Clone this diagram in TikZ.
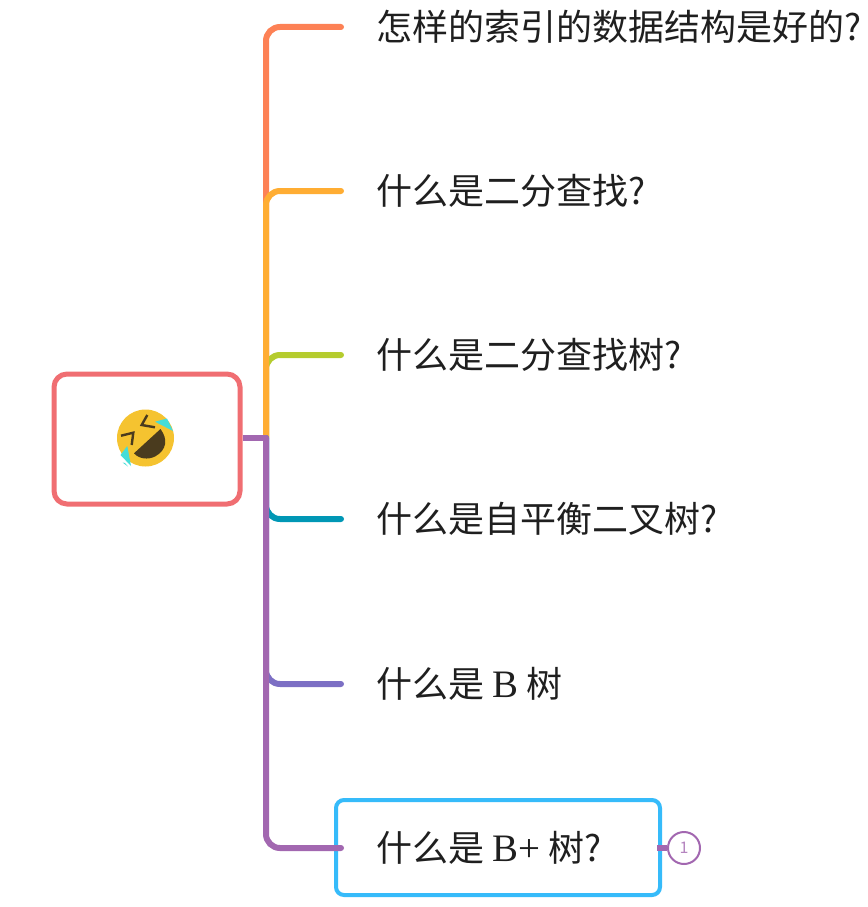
\documentclass[tikz,border=0pt]{standalone}
\usepackage{fontspec}
\setmainfont{Noto Sans CJK SC}
\newfontfamily\latinserif[Scale=1.08]{Liberation Serif}
\usetikzlibrary{positioning}
\definecolor{rootred}{HTML}{F06E72}
\definecolor{orangeline}{HTML}{FD8155}
\definecolor{yellowline}{HTML}{FFAD33}
\definecolor{greenline}{HTML}{B5CC2E}
\definecolor{tealline}{HTML}{0097B5}
\definecolor{indigoline}{HTML}{7C6FC4}
\definecolor{purpleline}{HTML}{A267B0}
\definecolor{selectblue}{HTML}{36BBFA}
\definecolor{faceyellow}{HTML}{F5C330}
\definecolor{facedark}{HTML}{4A3B1E}
\definecolor{tearblue}{HTML}{45DDD8}

\begin{document}
\begin{tikzpicture}[
  x=1pt, y=-1pt,
  branch/.style={line width=6pt, line cap=round, rounded corners=14pt},
  stub/.style={line width=6pt},
  topic/.style={font=\fontsize{36}{42}\selectfont, text=black!88, inner sep=0pt, anchor=west},
  rootbox/.style={draw=rootred, line width=5pt, rounded corners=13pt, minimum width=186pt, minimum height=130pt, fill=white},
  selectbox/.style={draw=selectblue, line width=4pt, rounded corners=8pt, minimum width=324pt, minimum height=95pt, fill=white},
  counter/.style={draw=purpleline, circle, line width=2pt, minimum size=32pt, inner sep=0pt, fill=white,
                  text=purpleline!80, font=\fontsize{16}{18}\selectfont},
  eye/.style={draw=facedark, line width=2.4pt},
]
\useasboundingbox (0,0) rectangle (867,907);

% ================= root and its face =================
\node[rootbox] (root) at (147,439) {};
\node[circle, fill=faceyellow, minimum size=57pt, inner sep=0pt] (face) at (145.5,438) {};
\fill[facedark] (134,453.3) -- (160.5,429) .. controls (168,439) and (167,450) .. (155,456.5) .. controls (148,460) and (139,459) .. cycle;
\draw[eye] (121,435.7) -- (133.3,432.7) -- (131.7,445);
\draw[eye] (147.3,415) -- (141.7,425) -- (155,427.3);
\fill[tearblue] (155,421.7) -- (167,418.5) -- (173,431) -- cycle;
\fill[tearblue] (127.3,446) -- (120.5,455) -- (131,466) -- cycle;
\fill[tearblue] (122.5,462.5) -- (125,463) -- (128,466.5) -- cycle;

% ================= free ends of the branches =================
\coordinate (trunk) at (266,438);
\coordinate (tip1) at (341,27);
\coordinate (tip2) at (341,191);
\coordinate (tip3) at (341,355);
\coordinate (tip4) at (341,519);
\coordinate (tip5) at (341,684);
\coordinate (tip6) at (341,848);

% ================= selected topic =================
\node[selectbox] (sel) at (498,847.5) {};

% ================= branches =================
\draw[branch, orangeline] (trunk) |- (tip1);
\draw[branch, greenline] (trunk) |- (tip3);
\draw[branch, yellowline] (trunk) |- (tip2);
\draw[branch, tealline] (trunk) |- (tip4);
\draw[branch, indigoline] (trunk) |- (tip5);
\draw[branch, purpleline] (trunk) |- (tip6);
\draw[stub, purpleline] (trunk -| root.east) -- (trunk);

% ================= topics =================
\node[topic, right=35pt of tip1, anchor=west] (t1) {怎样的索引的数据结构是好的?};
\node[topic, right=35pt of tip2, anchor=west] (t2) {什么是二分查找?};
\node[topic, right=35pt of tip3, anchor=west] (t3) {什么是二分查找树?};
\node[topic, right=35pt of tip4, anchor=west] (t4) {什么是自平衡二叉树?};
\node[topic, right=35pt of tip5, anchor=west] (t5) {什么是 {\latinserif B} 树};
\node[topic, right=35pt of tip6, anchor=west] (t6) {什么是 {\latinserif B+} 树?};

% ================= fold counter =================
\node[counter] (count) at (684,848) {1};
\draw[stub, purpleline] (sel.east) ++(-5,0.5) -- (count.west);

\end{tikzpicture}
\end{document}
